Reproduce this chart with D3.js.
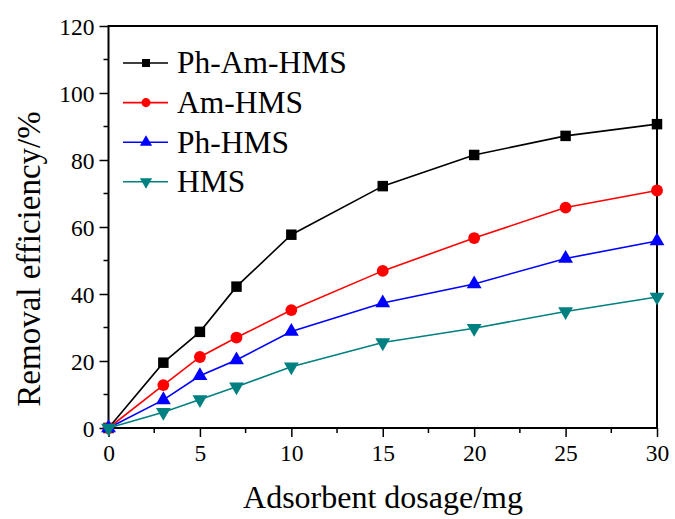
<!DOCTYPE html>
<html>
<head>
<meta charset="utf-8">
<script src="https://cdn.jsdelivr.net/npm/d3@7"></script>
<style>
  body { margin: 0; background: #fff; }
  svg text { font-family: "Liberation Serif", "DejaVu Serif", serif !important; fill: #000; }
</style>
</head>
<body>
<svg id="chart" width="675" height="519"></svg>
<script>
// adsorbent dosage (mg)
var dosage = [0, 3, 5, 7, 10, 15, 20, 25, 30];
// removal efficiency (%)
var phAmHms = [0, 19.5, 28.7, 42.2, 57.7, 72.2, 81.5, 87.2, 90.7];
var amHms = [0, 12.8, 21.2, 27.0, 35.2, 46.9, 56.7, 65.8, 70.9];
var phHms = [0, 8.4, 15.6, 20.3, 28.8, 37.3, 43.0, 50.6, 55.8];
var hms = [0, 4.7, 8.5, 12.3, 18.3, 25.5, 29.8, 34.8, 39.1];

var seriesNames = ["Ph-Am-HMS", "Am-HMS", "Ph-HMS", "HMS"];
var xTicks = [0, 5, 10, 15, 20, 25, 30];
var yTicks = [0, 20, 40, 60, 80, 100, 120];

var series = [
    { name: seriesNames[0], values: phAmHms, color: "#000000", symbol: d3.symbolSquare },
    { name: seriesNames[1], values: amHms, color: "#ff0000", symbol: d3.symbolCircle },
    { name: seriesNames[2], values: phHms, color: "#0000ff", symbol: d3.symbolTriangle },
    { name: seriesNames[3], values: hms, color: "#008080", symbol: "down" }
];

var margin = { top: 26, right: 18, bottom: 91, left: 108.5 };
var svg = d3.select("#chart");
var width = +svg.attr("width") - margin.left - margin.right;
var height = +svg.attr("height") - margin.top - margin.bottom;
var serif = "'Liberation Serif', serif";

var x = d3.scaleLinear().domain([0, 30]).range([0, width]);
var y = d3.scaleLinear().domain([0, 120]).range([height, 0]);

var g = svg.append("g").attr("transform", "translate(" + margin.left + "," + margin.top + ")");

function symbolPath(sym, size) {
    if (sym === "down") {
        return d3.symbol().type(d3.symbolTriangle).size(size)();
    }
    return d3.symbol().type(sym).size(size)();
}

// minor ticks
g.append("g").selectAll("line")
    .data(d3.range(2.5, 30, 5))
    .enter().append("line")
    .attr("x1", function (d) { return x(d); }).attr("x2", function (d) { return x(d); })
    .attr("y1", height).attr("y2", height + 5)
    .attr("stroke", "#000").attr("stroke-width", 1.5);
g.append("g").selectAll("line")
    .data(d3.range(10, 120, 20))
    .enter().append("line")
    .attr("y1", function (d) { return y(d); }).attr("y2", function (d) { return y(d); })
    .attr("x1", 0).attr("x2", -5)
    .attr("stroke", "#000").attr("stroke-width", 1.5);

var xAxis = d3.axisBottom(x).tickValues(xTicks).tickSizeInner(9).tickSizeOuter(0).tickPadding(5);
var yAxis = d3.axisLeft(y).tickValues(yTicks).tickSizeInner(9).tickSizeOuter(0).tickPadding(5);

var gx = g.append("g").attr("transform", "translate(0," + height + ")").call(xAxis);
var gy = g.append("g").call(yAxis);
[gx, gy].forEach(function (a) {
    a.attr("font-family", serif);
    a.select(".domain").remove();
    a.selectAll("line").attr("stroke-width", 1.5);
    a.selectAll("text").style("font-size", "23.5px").style("font-family", serif).attr("fill", "#000");
});
gx.selectAll(".tick text").attr("dy", "0.8em");
gy.selectAll(".tick text").attr("dy", "0.34em");

// frame
g.append("rect").attr("width", width).attr("height", height)
    .attr("fill", "none").attr("stroke", "#000").attr("stroke-width", 2);

var line = d3.line()
    .x(function (d) { return x(d[0]); })
    .y(function (d) { return y(d[1]); });

series.forEach(function (s) {
    var pts = dosage.map(function (d, i) { return [d, s.values[i]]; });
    g.append("path").datum(pts)
        .attr("fill", "none").attr("stroke", s.color).attr("stroke-width", 1.6)
        .attr("d", line);
    g.append("g").selectAll("path")
        .data(pts)
        .enter().append("path")
        .attr("d", symbolPath(s.symbol, s.symbol === d3.symbolTriangle || s.symbol === "down" ? 95 : 110))
        .attr("transform", function (d) {
            return "translate(" + x(d[0]) + "," + y(d[1]) + ")" + (s.symbol === "down" ? " rotate(180)" : "");
        })
        .attr("fill", s.color);
});

// legend
var legend = g.append("g").attr("transform", "translate(" + (123 - margin.left) + "," + (63 - margin.top) + ")");
series.forEach(function (s, i) {
    var row = legend.append("g").attr("transform", "translate(0," + (i * 39.6) + ")");
    row.append("line").attr("x1", 0).attr("x2", 45).attr("y1", 0).attr("y2", 0)
        .attr("stroke", s.color).attr("stroke-width", 1.6);
    row.append("path")
        .attr("d", symbolPath(s.symbol, 65))
        .attr("transform", "translate(23,0)" + (s.symbol === "down" ? " rotate(180)" : ""))
        .attr("fill", s.color);
    row.append("text")
        .attr("x", 54)
        .attr("dy", "0.33em")
        .style("font-family", serif)
        .style("font-size", "31.5px")
        .text(s.name);
});

// axis titles
svg.append("text")
    .attr("x", 383).attr("y", 508)
    .attr("text-anchor", "middle")
    .style("font-family", serif)
    .style("font-size", "32px")
    .text("Adsorbent dosage/mg");

svg.append("text")
    .attr("transform", "translate(40,259) rotate(-90)")
    .attr("text-anchor", "middle")
    .style("font-family", serif)
    .style("font-size", "33px")
    .text("Removal efficiency/%");
</script>
</body>
</html>
